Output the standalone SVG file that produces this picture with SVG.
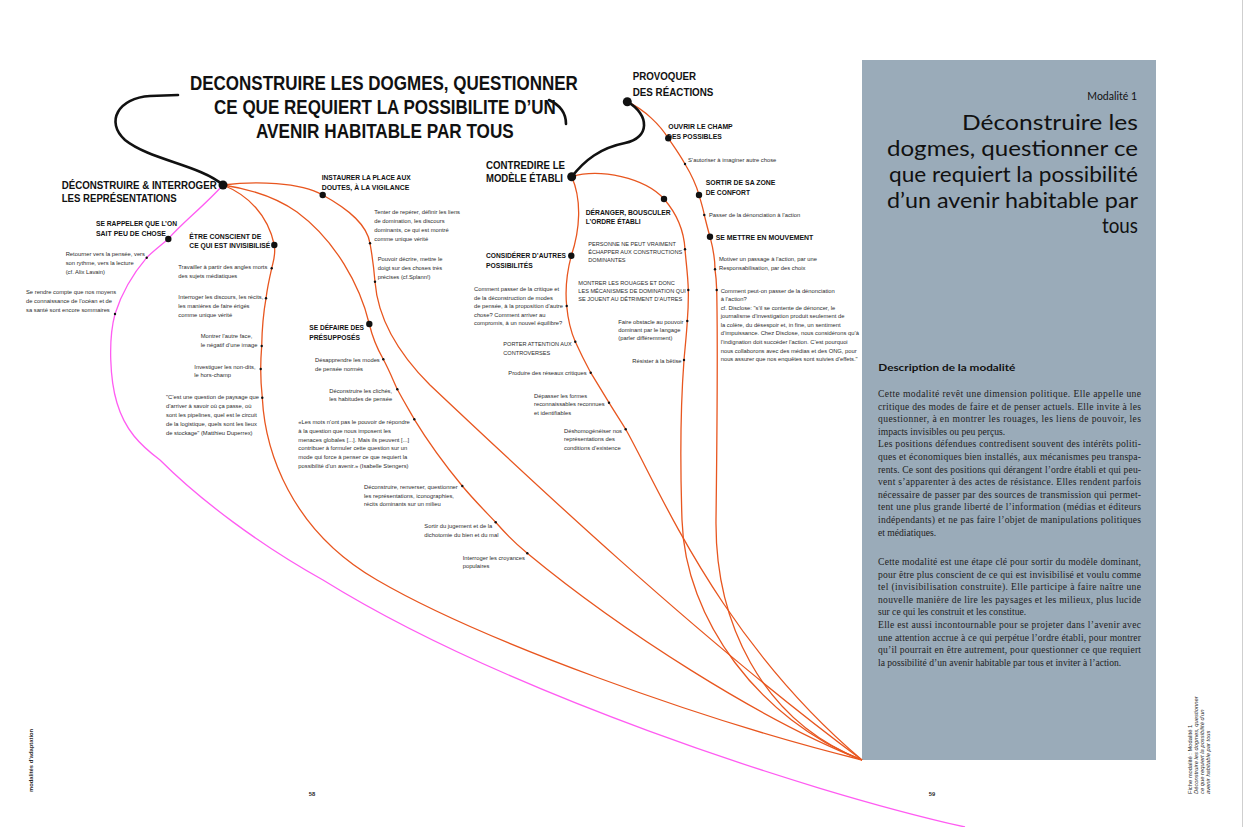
<svg xmlns="http://www.w3.org/2000/svg" width="1245" height="827" viewBox="0 0 1245 827">
<style>
.o{fill:none;stroke:#e8561f;stroke-width:1.3}
.p{fill:none;stroke:#ff5cf2;stroke-width:1.3}
.k{fill:none;stroke:#111;stroke-width:2.6;stroke-linecap:round}
.s{font-family:"Liberation Sans",Arial,sans-serif;font-size:5.8px;fill:#2b2b2b}
.u{font-family:"Liberation Sans",Arial,sans-serif;font-size:5.6px;fill:#2b2b2b}
.n{font-family:"Liberation Sans",Arial,sans-serif;font-weight:bold;font-size:7.8px;fill:#111}
.N{font-family:"Liberation Sans",Arial,sans-serif;font-weight:bold;font-size:11px;fill:#111}
.T{font-family:"Liberation Sans",Arial,sans-serif;font-weight:bold;font-size:21px;fill:#111}
.b{fill:#111}
.body{font-family:"Liberation Serif","Times New Roman",serif;font-size:9.6px;fill:#222}
.h{font-family:Lato,"Noto Sans",sans-serif;fill:#111}
</style>
<rect width="1245" height="827" fill="#fff"/>
<line x1="1242.5" y1="0" x2="1242.5" y2="827" stroke="#cfcfcf" stroke-width="1"/>
<rect x="862" y="60" width="294" height="700" fill="#9aabb9"/>

<g id="connectors">
<path class="p" d="M223,185 C205,205 180,225 168.3,239 C160,246 152,252 146.7,257.7 C132,275 122,292 115,314 C108,340 110,380 117,403 C125,430 140,445 160,460 C200,500 260,545 323,580 C500,690 800,790 965,827"/>
<path class="o" d="M223,185 C255,181 300,182 322.7,195 C350,210 367,225 370,243.3 C373,260 374,270 375,281.7 C378,320 400,355 430,385 C520,470 700,640 862,760"/>
<path class="o" d="M223,185 C250,189 277,198 297,212 C335,240 360,285 369.3,324 C373,340 378,350 383.3,359.3 C390,372 393,380 397.3,389.3 C403,400 409,410 414.3,419.3 C430,445 445,465 462.3,486 C473,499 484,510 495.7,522.3 C505,533 515,543 527.3,553.3 C620,630 760,720 862,760"/>
<path class="o" d="M223,185 C248,195 268,215 274.3,245 C276,255 273,262 271.7,268.3 C269,280 267,290 266,298.3 C263,315 262,330 261.7,346 C261,355 260.7,362 260.7,369 C260.7,380 261.5,390 262.3,397.7 C265,450 290,530 377,580 C480,640 700,720 862,760"/>
<path class="o" d="M571.7,176.7 C600,168 645,178 664,199 C678,215 684,232 685,249.3 C686,262 688,276 688.3,290 C688.5,300 688,312 687.3,321 C686.5,335 685,348 684,360 C681,400 680,460 682,520 C685,620 760,720 862,760"/>
<path class="o" d="M571.7,176.7 C582,200 580,230 571.3,255.7 C567,272 565,290 566.7,306 C568,320 571,332 575.3,341.7 C580,352 585,362 590.7,372.7 C597,383 603,393 609,402.7 C614,411 620,420 625.7,429.3 C660,490 720,640 862,760"/>
<path class="o" d="M627.3,101.7 C645,110 660,125 668.3,138.3 C675,148 680,155 685,164 C691,174 696,184 699,195 C701,202 703,208 704.3,215 C706,222 708,230 710,236.7 C713,248 715,258 715,269.3 C716,276 716.5,283 716.7,290 C718,350 717,440 716,520 C715,620 760,720 862,760"/>
<path class="k" d="M223,185 C200,165 150,160 125,140 C105,122 118,98 150,96 L178,95"/>
<path class="k" d="M549,100 C560,105 566,113 566,124"/>
<path class="k" d="M571.7,176.7 C585,160 600,148 625,143 C650,138 650,115 627.3,101.7"/>
</g>

<g id="title">
<text class="T" transform="translate(190,90) scale(0.809,1)" x="0" y="0">DECONSTRUIRE LES DOGMES, QUESTIONNER</text>
<text class="T" transform="translate(214,114) scale(0.811,1)" x="0" y="0">CE QUE REQUIERT LA POSSIBILITE D’UN</text>
<text class="T" transform="translate(256,138) scale(0.817,1)" x="0" y="0">AVENIR HABITABLE PAR TOUS</text>
</g>

<g id="n-deconstruire">
<circle class="b" cx="223" cy="185" r="4.5"/>
<text class="N" x="61.7" y="188.5" textLength="155" lengthAdjust="spacingAndGlyphs">DÉCONSTRUIRE &amp; INTERROGER</text>
<text class="N" x="61.7" y="202" textLength="115" lengthAdjust="spacingAndGlyphs">LES REPRÉSENTATIONS</text>
</g>
<g id="n-rappeler">
<circle class="b" cx="168.3" cy="239" r="3.2"/>
<text class="n" x="96" y="225.5" textLength="81" lengthAdjust="spacingAndGlyphs">SE RAPPELER QUE L’ON</text>
<text class="n" x="96" y="235.5" textLength="70" lengthAdjust="spacingAndGlyphs">SAIT PEU DE CHOSE</text>
<circle class="b" cx="146.7" cy="257.7" r="1.2"/>
<text class="s" x="65.7" y="256"><tspan>Retourner vers la pensée, vers</tspan><tspan x="65.7" dy="8.8">son rythme, vers la lecture</tspan><tspan x="65.7" dy="8.8">(cf. Alix Lavain)</tspan></text>
<circle class="b" cx="115" cy="314" r="1.2"/>
<text class="s" x="26" y="294"><tspan>Se rendre compte que nos moyens</tspan><tspan x="26" dy="8.8">de connaissance de l’océan et de</tspan><tspan x="26" dy="8.8">sa santé sont encore sommaires</tspan></text>
</g>
<g id="n-conscient">
<circle class="b" cx="274.3" cy="245" r="3.2"/>
<text class="n" x="189.3" y="238.5" textLength="72" lengthAdjust="spacingAndGlyphs">ÊTRE CONSCIENT DE</text>
<text class="n" x="189.3" y="248" textLength="81" lengthAdjust="spacingAndGlyphs">CE QUI EST INVISIBILISÉ</text>
<circle class="b" cx="271.7" cy="268.3" r="1.2"/>
<text class="s" x="178.3" y="269"><tspan>Travailler à partir des angles morts</tspan><tspan x="178.3" dy="8.8">des sujets médiatiques</tspan></text>
<circle class="b" cx="266" cy="298.3" r="1.2"/>
<text class="s" x="178.3" y="299"><tspan>Interroger les discours, les récits,</tspan><tspan x="178.3" dy="8.8">les manières de faire érigés</tspan><tspan x="178.3" dy="8.8">comme unique vérité</tspan></text>
<circle class="b" cx="261.7" cy="346" r="1.2"/>
<text class="s" x="200.7" y="338"><tspan>Montrer l’autre face,</tspan><tspan x="200.7" dy="8.8">le négatif d’une image</tspan></text>
<circle class="b" cx="260.7" cy="369" r="1.2"/>
<text class="s" x="194.3" y="368.5"><tspan>Investiguer les non-dits,</tspan><tspan x="194.3" dy="8.8">le hors-champ</tspan></text>
<circle class="b" cx="262.3" cy="397.7" r="1.2"/>
<text class="s" x="166" y="399.3"><tspan>"C’est une question de paysage que</tspan><tspan x="166" dy="8.8">d’arriver à savoir où ça passe, où</tspan><tspan x="166" dy="8.8">sont les pipelines, quel est le circuit</tspan><tspan x="166" dy="8.8">de la logistique, quels sont les lieux</tspan><tspan x="166" dy="8.8">de stockage" (Matthieu Duperrex)</tspan></text>
</g>
<g id="n-instaurer">
<circle class="b" cx="322.7" cy="195" r="3.2"/>
<text class="n" x="321.7" y="179.5" textLength="89" lengthAdjust="spacingAndGlyphs">INSTAURER LA PLACE AUX</text>
<text class="n" x="321.7" y="189.5" textLength="87.6" lengthAdjust="spacingAndGlyphs">DOUTES, À LA VIGILANCE</text>
<circle class="b" cx="370" cy="243.3" r="1.2"/>
<text class="s" x="374.3" y="214.3"><tspan>Tenter de repérer, définir les liens</tspan><tspan x="374.3" dy="8.8">de domination, les discours</tspan><tspan x="374.3" dy="8.8">dominants, ce qui est montré</tspan><tspan x="374.3" dy="8.8">comme unique vérité</tspan></text>
<circle class="b" cx="375" cy="281.7" r="1.2"/>
<text class="s" x="377.7" y="261"><tspan>Pouvoir décrire, mettre le</tspan><tspan x="377.7" dy="8.8">doigt sur des choses très</tspan><tspan x="377.7" dy="8.8">précises (cf.Splann!)</tspan></text>
</g>
<g id="n-defaire">
<circle class="b" cx="369.3" cy="324" r="3.2"/>
<text class="n" x="309.3" y="329.5" textLength="54.7" lengthAdjust="spacingAndGlyphs">SE DÉFAIRE DES</text>
<text class="n" x="309.3" y="339.5" textLength="50.7" lengthAdjust="spacingAndGlyphs">PRÉSUPPOSÉS</text>
<circle class="b" cx="383.3" cy="359.3" r="1.2"/>
<text class="s" x="315" y="362"><tspan>Désapprendre les modes</tspan><tspan x="315" dy="8.8">de pensée normés</tspan></text>
<circle class="b" cx="397.3" cy="389.3" r="1.2"/>
<text class="s" x="329.3" y="393"><tspan>Déconstruire les clichés,</tspan><tspan x="329.3" dy="8.3">les habitudes de pensée</tspan></text>
<circle class="b" cx="414.3" cy="419.3" r="1.2"/>
<text class="s" x="298.3" y="424"><tspan>«Les mots n’ont pas le pouvoir de répondre</tspan><tspan x="298.3" dy="8.8">à la question que nous imposent les</tspan><tspan x="298.3" dy="8.8">menaces globales [...]. Mais ils peuvent [...]</tspan><tspan x="298.3" dy="8.8">contribuer à formuler cette question sur un</tspan><tspan x="298.3" dy="8.8">mode qui force à penser ce que requiert la</tspan><tspan x="298.3" dy="8.8">possibilité d’un avenir.» (Isabelle Stengers)</tspan></text>
<circle class="b" cx="462.3" cy="486" r="1.2"/>
<text class="s" x="364" y="489"><tspan>Déconstruire, renverser, questionner</tspan><tspan x="364" dy="8.6">les représentations, iconographies,</tspan><tspan x="364" dy="8.6">récits dominants sur un milieu</tspan></text>
<circle class="b" cx="495.7" cy="522.3" r="1.2"/>
<text class="s" x="424.3" y="528"><tspan>Sortir du jugement et de la</tspan><tspan x="424.3" dy="9">dichotomie du bien et du mal</tspan></text>
<circle class="b" cx="527.3" cy="553.3" r="1.2"/>
<text class="s" x="462.7" y="559.5"><tspan>Interroger les croyances</tspan><tspan x="462.7" dy="8.3">populaires</tspan></text>
</g>

<g id="n-contredire">
<circle class="b" cx="571.7" cy="176.7" r="4.5"/>
<text class="N" x="486" y="168.5" textLength="79" lengthAdjust="spacingAndGlyphs">CONTREDIRE LE</text>
<text class="N" x="486" y="182" textLength="77" lengthAdjust="spacingAndGlyphs">MODÈLE ÉTABLI</text>
</g>
<g id="n-deranger">
<circle class="b" cx="664" cy="199" r="3.2"/>
<text class="n" x="585.7" y="214.5" textLength="85" lengthAdjust="spacingAndGlyphs">DÉRANGER, BOUSCULER</text>
<text class="n" x="585.7" y="224" textLength="55" lengthAdjust="spacingAndGlyphs">L’ORDRE ÉTABLI</text>
<circle class="b" cx="685" cy="249.3" r="1.2"/>
<text class="u" x="588.3" y="245.5"><tspan>PERSONNE NE PEUT VRAIMENT</tspan><tspan x="588.3" dy="8.5">ÉCHAPPER AUX CONSTRUCTIONS</tspan><tspan x="588.3" dy="8.3">DOMINANTES</tspan></text>
<circle class="b" cx="688.3" cy="290" r="1.2"/>
<text class="u" x="578.3" y="284.5"><tspan>MONTRER LES ROUAGES ET DONC</tspan><tspan x="578.3" dy="8.2">LES MÉCANISMES DE DOMINATION QUI</tspan><tspan x="578.3" dy="8.3">SE JOUENT AU DÉTRIMENT D’AUTRES</tspan></text>
<circle class="b" cx="687.3" cy="321" r="1.2"/>
<text class="s" x="618.3" y="323.5"><tspan>Faire obstacle au pouvoir</tspan><tspan x="618.3" dy="8">dominant par le langage</tspan><tspan x="618.3" dy="8.3">(parler différemment)</tspan></text>
<circle class="b" cx="684" cy="360" r="1.2"/>
<text class="s" x="632.3" y="362.5">Résister à la bêtise</text>
</g>
<g id="n-considerer">
<circle class="b" cx="571.3" cy="255.7" r="3.2"/>
<text class="n" x="486" y="257.5" textLength="80" lengthAdjust="spacingAndGlyphs">CONSIDÉRER D’AUTRES</text>
<text class="n" x="486" y="267.5" textLength="46.7" lengthAdjust="spacingAndGlyphs">POSSIBILITÉS</text>
<circle class="b" cx="566.7" cy="306" r="1.2"/>
<text class="s" x="474" y="291"><tspan>Comment passer de la critique et</tspan><tspan x="474" dy="8.6">de la déconstruction de modes</tspan><tspan x="474" dy="8.6">de pensée, à la proposition d’autre</tspan><tspan x="474" dy="8.6">chose? Comment arriver au</tspan><tspan x="474" dy="8.6">compromis, à un nouvel équilibre?</tspan></text>
<circle class="b" cx="575.3" cy="341.7" r="1.2"/>
<text class="u" x="503.3" y="346"><tspan>PORTER ATTENTION AUX</tspan><tspan x="503.3" dy="9">CONTROVERSES</tspan></text>
<circle class="b" cx="590.7" cy="372.7" r="1.2"/>
<text class="s" x="508.3" y="374.5">Produire des réseaux critiques</text>
<circle class="b" cx="609" cy="402.7" r="1.2"/>
<text class="s" x="534" y="397.5"><tspan>Dépasser les formes</tspan><tspan x="534" dy="8.7">reconnaissables reconnues</tspan><tspan x="534" dy="8.7">et identifiables</tspan></text>
<circle class="b" cx="625.7" cy="429.3" r="1.2"/>
<text class="s" x="564" y="433"><tspan>Déshomogénéiser nos</tspan><tspan x="564" dy="8.3">représentations des</tspan><tspan x="564" dy="8.3">conditions d’existence</tspan></text>
</g>

<g id="n-provoquer">
<circle class="b" cx="627.3" cy="101.7" r="4.5"/>
<text class="N" x="632.7" y="80" textLength="63.3" lengthAdjust="spacingAndGlyphs">PROVOQUER</text>
<text class="N" x="632.7" y="96" font-size="10.8" textLength="80.7" lengthAdjust="spacingAndGlyphs">DES RÉACTIONS</text>
</g>
<g id="n-ouvrir">
<text class="n" x="668.3" y="128.5" textLength="64.4" lengthAdjust="spacingAndGlyphs">OUVRIR LE CHAMP</text>
<text class="n" x="667" y="138.5" textLength="54.7" lengthAdjust="spacingAndGlyphs">DES POSSIBLES</text>
<circle class="b" cx="668.3" cy="138.3" r="3.2"/>
<circle class="b" cx="685" cy="164" r="1.2"/>
<text class="s" x="688" y="162">S’autoriser à imaginer autre chose</text>
</g>
<g id="n-sortir">
<circle class="b" cx="699" cy="195" r="3.2"/>
<text class="n" x="705.7" y="184.5" textLength="69.7" lengthAdjust="spacingAndGlyphs">SORTIR DE SA ZONE</text>
<text class="n" x="705.7" y="194.5" textLength="44.3" lengthAdjust="spacingAndGlyphs">DE CONFORT</text>
<circle class="b" cx="704.3" cy="215" r="1.2"/>
<text class="s" x="709" y="216.5">Passer de la dénonciation à l’action</text>
</g>
<g id="n-mettre">
<circle class="b" cx="710" cy="236.7" r="3.2"/>
<text class="n" x="715.7" y="240" textLength="97.6" lengthAdjust="spacingAndGlyphs">SE METTRE EN MOUVEMENT</text>
<circle class="b" cx="715" cy="269.3" r="1.2"/>
<text class="s" x="719" y="261"><tspan>Motiver un passage à l’action, par une</tspan><tspan x="719" dy="9.2">Responsabilisation, par des choix</tspan></text>
<circle class="b" cx="716.7" cy="290" r="1.2"/>
<text class="s" x="720.7" y="292.5"><tspan>Comment peut-on passer de la dénonciation</tspan><tspan x="720.7" dy="8.5">à l’action?</tspan><tspan x="720.7" dy="8.6">cf. Disclose: "s’il se contente de dénoncer, le</tspan><tspan x="720.7" dy="8.6">journalisme d’investigation produit seulement de</tspan><tspan x="720.7" dy="8.6">la colère, du désespoir et, in fine, un sentiment</tspan><tspan x="720.7" dy="8.6">d’impuissance. Chez Disclose, nous considérons qu’à</tspan><tspan x="720.7" dy="8.6">l’indignation doit succéder l’action. C’est pourquoi</tspan><tspan x="720.7" dy="8.6">nous collaborons avec des médias et des ONG, pour</tspan><tspan x="720.7" dy="8.6">nous assurer que nos enquêtes sont suivies d’effets."</tspan></text>
</g>

<g id="panel">
<text class="h" x="1137" y="100" font-size="10.5" text-anchor="end">Modalité 1</text>
<g class="h" font-size="22" text-anchor="end">
<text x="1138" y="130" textLength="176" lengthAdjust="spacingAndGlyphs">Déconstruire les</text>
<text x="1138" y="156" textLength="251" lengthAdjust="spacingAndGlyphs">dogmes, questionner ce</text>
<text x="1138" y="182" textLength="249" lengthAdjust="spacingAndGlyphs">que requiert la possibilité</text>
<text x="1138" y="208" textLength="251" lengthAdjust="spacingAndGlyphs">d’un avenir habitable par</text>
<text x="1138" y="233" textLength="36" lengthAdjust="spacingAndGlyphs">tous</text>
</g>
<text class="h" x="878.3" y="371" font-size="10" font-weight="bold" textLength="137" lengthAdjust="spacingAndGlyphs">Description de la modalité</text>
<g class="body">
<text x="878" y="397" textLength="263" lengthAdjust="spacing">Cette modalité revêt une dimension politique. Elle appelle une</text>
<text x="878" y="409.6" textLength="263" lengthAdjust="spacing">critique des modes de faire et de penser actuels. Elle invite à les</text>
<text x="878" y="422.2" textLength="263" lengthAdjust="spacing">questionner, à en montrer les rouages, les liens de pouvoir, les</text>
<text x="878" y="434.8">impacts invisibles ou peu perçus.</text>
<text x="878" y="447.4" textLength="263" lengthAdjust="spacing">Les positions défendues contredisent souvent des intérêts politi-</text>
<text x="878" y="460" textLength="263" lengthAdjust="spacing">ques et économiques bien installés, aux mécanismes peu transpa-</text>
<text x="878" y="472.6" textLength="263" lengthAdjust="spacing">rents. Ce sont des positions qui dérangent l’ordre établi et qui peu-</text>
<text x="878" y="485.2" textLength="263" lengthAdjust="spacing">vent s’apparenter à des actes de résistance. Elles rendent parfois</text>
<text x="878" y="497.8" textLength="263" lengthAdjust="spacing">nécessaire de passer par des sources de transmission qui permet-</text>
<text x="878" y="510.4" textLength="263" lengthAdjust="spacing">tent une plus grande liberté de l’information (médias et éditeurs</text>
<text x="878" y="523" textLength="263" lengthAdjust="spacing">indépendants) et ne pas faire l’objet de manipulations politiques</text>
<text x="878" y="535.6">et médiatiques.</text>
<text x="878" y="565" textLength="263" lengthAdjust="spacing">Cette modalité est une étape clé pour sortir du modèle dominant,</text>
<text x="878" y="577.6" textLength="263" lengthAdjust="spacing">pour être plus conscient de ce qui est invisibilisé et voulu comme</text>
<text x="878" y="590.2" textLength="263" lengthAdjust="spacing">tel (invisibilisation construite). Elle participe à faire naître une</text>
<text x="878" y="602.8" textLength="263" lengthAdjust="spacing">nouvelle manière de lire les paysages et les milieux, plus lucide</text>
<text x="878" y="615.4">sur ce qui les construit et les constitue.</text>
<text x="878" y="628" textLength="263" lengthAdjust="spacing">Elle est aussi incontournable pour se projeter dans l’avenir avec</text>
<text x="878" y="640.6" textLength="263" lengthAdjust="spacing">une attention accrue à ce qui perpétue l’ordre établi, pour montrer</text>
<text x="878" y="653.2" textLength="263" lengthAdjust="spacing">qu’il pourrait en être autrement, pour questionner ce que requiert</text>
<text x="878" y="665.8">la possibilité d’un avenir habitable par tous et inviter à l’action.</text>
</g>
</g>

<g id="page-marks">
<text class="s" font-weight="bold" font-size="6.5" transform="translate(32.5,792) rotate(-90)">modalités d’adaptation</text>
<text class="s" font-weight="bold" font-size="7" x="312" y="796" text-anchor="middle">58</text>
<text class="s" font-weight="bold" font-size="7" x="932" y="796" text-anchor="middle">59</text>
<text class="s" font-size="6" transform="translate(1192,794) rotate(-90)"><tspan x="0" y="0">Fiche modalité : Modalité 1</tspan><tspan x="0" dy="6" font-style="italic">Déconstruire les dogmes, questionner</tspan><tspan x="0" dy="6" font-style="italic">ce que requiert la possibilité d’un</tspan><tspan x="0" dy="6" font-style="italic">avenir habitable par tous</tspan></text>
</g>
</svg>
